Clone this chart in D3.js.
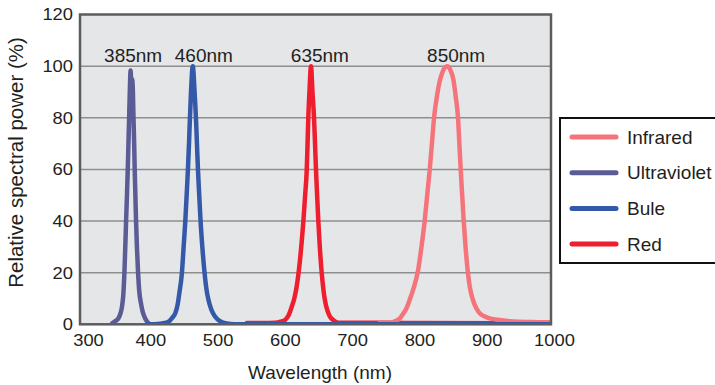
<!DOCTYPE html>
<html><head><meta charset="utf-8">
<script src="https://cdn.jsdelivr.net/npm/d3@7"></script>
<style>
body{margin:0;background:#fff;}
svg{display:block;font-family:"Liberation Sans",Arial,Helvetica,sans-serif;}
</style>
</head><body>
<svg id="chart" width="715" height="385"></svg>
<script>
// ---------- data ----------
const xTickValues = [300, 400, 500, 600, 700, 800, 900, 1000];
const yTickValues = [0, 20, 40, 60, 80, 100, 120];
const seriesNames = ["Infrared", "Ultraviolet", "Bule", "Red"];

const uvWavelength = [347.7, 350, 354, 357.5, 360.5, 362.5, 364.5, 366, 367.3, 368.5, 369.8, 371, 372, 373, 374, 375.2, 376.3, 377.4, 378.4, 379.5, 380.5, 381.3, 382.3, 383.3, 384.6, 386.3, 388, 390.7, 393, 395.7, 398.5, 402];
const uvValue      = [0.3, 0.8, 1.5, 2.5, 4.5, 7, 12, 20, 30, 40, 50, 60, 70, 80, 90, 98.3, 93, 95, 92, 80, 70, 60, 50, 40, 30, 20, 13, 8, 5, 3, 1.5, 0.4];

const blueWavelength = [400, 410, 420, 426, 431.7, 437, 441.6, 445, 447.6, 451.5, 454, 456.5, 458.5, 460.4, 462, 463.4, 465, 467.6, 470.3, 472.3, 473.8, 475.3, 477.2, 479.2, 481.8, 485.1, 488, 491, 495, 501, 508, 516, 530, 600, 700, 800, 900, 1000];
const blueValue      = [0, 0, 0.2, 0.5, 1, 2.5, 4.3, 7.5, 12, 20, 30, 40, 50, 60, 70, 80, 90, 100, 90, 80, 70, 60, 50, 40, 30, 20, 13.5, 9.4, 5.8, 2.9, 1.2, 0.4, 0, 0, 0, 0, 0, 0];

const redWavelength = [548, 570, 590, 598, 604.8, 610, 614.7, 618.5, 622, 627, 629.5, 632, 634.6, 637, 638.2, 639.3, 641, 643.3, 645.5, 647.8, 649.3, 650.7, 652.4, 654.2, 656.4, 659.2, 661.5, 664, 667.5, 671.5, 677, 684, 720, 760, 800, 1000];
const redValue      = [0.5, 0.5, 0.6, 1, 1.7, 3.5, 6.8, 10, 14.6, 25, 32, 40, 50, 60, 70, 80, 90, 100, 90, 80, 70, 60, 50, 40, 30, 20, 14, 9.4, 5.5, 3, 1.5, 0.6, 0.6, 0.6, 0.5, 0.3];

const irWavelength = [745, 760.5, 768, 775.3, 780, 785.2, 790, 795, 802.5, 807.5, 812.4, 816, 819.8, 823, 826.2, 830, 834, 838.5, 842.5, 846, 850, 855, 858.5, 861.8, 863.8, 865.8, 868, 870.2, 873, 876.6, 880, 884, 889, 894, 900, 908.8, 920, 940, 970, 1000];
const irValue      = [0.5, 0.6, 1.2, 2.3, 4, 6.2, 9.5, 13.3, 21, 30, 40.4, 50, 60, 70, 80, 87.5, 93.5, 97.5, 99.6, 100, 98.8, 94.7, 88, 80, 70, 60, 50, 40.4, 30, 19.8, 13.5, 9.4, 6.2, 4.3, 3.2, 2.3, 1.8, 1.2, 0.9, 0.8];

const peakLabels = ["385nm", "460nm", "635nm", "850nm"];
const peakLabelWavelength = [379, 484, 656.5, 859];
const peakLabelValue = [101.5, 101.5, 101.5, 101.5];

// ---------- styling ----------
const colors = {Infrared: "#f5747c", Ultraviolet: "#5b5b95", Bule: "#3459a8", Red: "#ee1e2f"};
const textColor = "#231f20";

const svg = d3.select("#chart");
const x = d3.scaleLinear().domain([300, 1000]).range([80, 551]);
const y = d3.scaleLinear().domain([0, 120]).range([324.3, 14.5]);

// plot background
svg.append("rect").attr("x", x(300)).attr("y", y(120))
  .attr("width", x(1000) - x(300)).attr("height", y(0) - y(120))
  .attr("fill", "#e5e6e8");

// gridlines
svg.append("g").selectAll("line").data(yTickValues.filter(v => v > 0 && v < 120)).join("line")
  .attr("x1", x(300)).attr("x2", x(1000))
  .attr("y1", d => y(d)).attr("y2", d => y(d))
  .attr("stroke", "#8e8e8e").attr("stroke-width", 1.5);

// clip
svg.append("clipPath").attr("id", "plotclip").append("rect")
  .attr("x", x(300)).attr("y", y(120) - 5)
  .attr("width", x(1000) - x(300)).attr("height", y(0) - y(120) + 4);

const line = d3.line().x(d => x(d[0])).y(d => y(d[1])).curve(d3.curveMonotoneX);
const seriesData = {
  Red: d3.zip(redWavelength, redValue),
  Infrared: d3.zip(irWavelength, irValue),
  Ultraviolet: d3.zip(uvWavelength, uvValue),
  Bule: d3.zip(blueWavelength, blueValue)
};
const drawOrder = ["Red", "Infrared", "Ultraviolet", "Bule"];
const gLines = svg.append("g").attr("clip-path", "url(#plotclip)");
drawOrder.forEach(name => {
  gLines.append("path").datum(seriesData[name])
    .attr("d", line).attr("fill", "none")
    .attr("stroke", colors[name]).attr("stroke-width", 4.5)
    .attr("stroke-linejoin", "round").attr("stroke-linecap", "round");
});

// frame
svg.append("rect").attr("x", x(300)).attr("y", y(120))
  .attr("width", x(1000) - x(300)).attr("height", y(0) - y(120))
  .attr("fill", "none").attr("stroke", "#5c5c5c").attr("stroke-width", 2.5);

// axes (labels only)
const xAxis = d3.axisBottom(x).tickValues(xTickValues).tickSize(0).tickPadding(10).tickFormat(d3.format("d"));
const gx = svg.append("g").attr("transform", `translate(0,${y(0)})`).call(xAxis);
gx.select(".domain").remove();
gx.selectAll(".tick text").attr("font-size", 17).attr("fill", textColor).attr("font-family", null)
  .attr("x", d => d === 300 ? 8 : 3)
  .attr("transform", function(d) { const cx = d === 300 ? 8 : 3; return `translate(${cx},0) scale(1.08,1) translate(${-cx},0)`; });

const yAxis = d3.axisLeft(y).tickValues(yTickValues).tickSize(0).tickPadding(7);
const gy = svg.append("g").attr("transform", `translate(${x(300)},0)`).call(yAxis);
gy.select(".domain").remove();
gy.selectAll(".tick text").attr("font-size", 17).attr("fill", textColor).attr("font-family", null)
  .attr("transform", "translate(-7,0) scale(1.08,1) translate(7,0)");

// axis titles
svg.append("text").attr("x", 320).attr("y", 378.5).attr("text-anchor", "middle")
  .attr("font-size", 19).attr("fill", textColor).text("Wavelength (nm)");
svg.append("text").attr("transform", "translate(23,162.5) rotate(-90)").attr("text-anchor", "middle")
  .attr("font-size", 20.5).attr("fill", textColor).text("Relative spectral power (%)");

// peak labels
svg.append("g").selectAll("text").data(peakLabels).join("text")
  .attr("x", (d, i) => x(peakLabelWavelength[i]))
  .attr("y", (d, i) => y(peakLabelValue[i]))
  .attr("text-anchor", "middle").attr("font-size", 19).attr("fill", textColor)
  .text(d => d);

// legend
const lg = svg.append("g");
lg.append("rect").attr("x", 560).attr("y", 118).attr("width", 160).attr("height", 145)
  .attr("fill", "#fff").attr("stroke", "#111").attr("stroke-width", 2);
const items = lg.selectAll("g.item").data(seriesNames).join("g").attr("class", "item")
  .attr("transform", (d, i) => `translate(0,${137 + i * 35.7})`);
items.append("line").attr("x1", 572).attr("x2", 616).attr("y1", 0).attr("y2", 0)
  .attr("stroke", d => colors[d]).attr("stroke-width", 5).attr("stroke-linecap", "round");
items.append("text").attr("x", 627).attr("y", 0).attr("dy", "0.35em")
  .attr("font-size", 19).attr("fill", textColor).text(d => d);
</script>
</body></html>
